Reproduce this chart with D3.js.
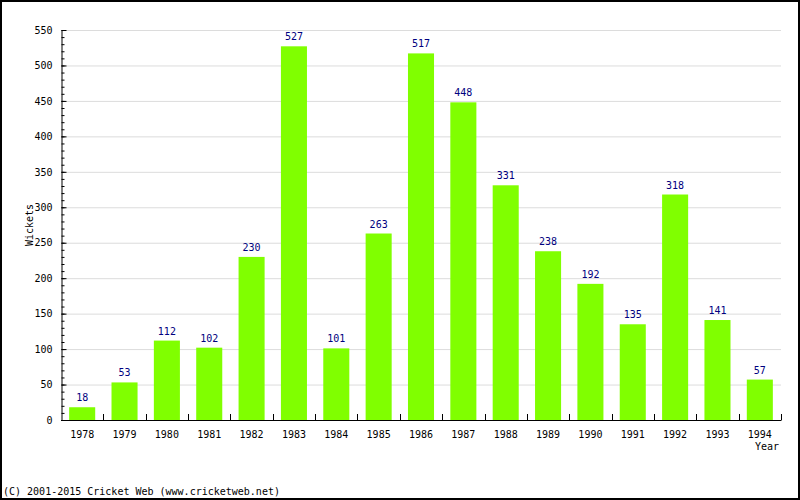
<!DOCTYPE html>
<html>
<head>
<meta charset="utf-8">
<script src="https://cdn.jsdelivr.net/npm/d3@7"></script>
<style>
  body { margin: 0; background: #fff; }
  svg text { font-family: 'DejaVu Sans Mono', monospace; font-size: 10px; }
</style>
</head>
<body>
<div id="chart"></div>
<script>
// Chart data
var years = ['1978','1979','1980','1981','1982','1983','1984','1985','1986','1987','1988','1989','1990','1991','1992','1993','1994'];
var wickets = [18, 53, 112, 102, 230, 527, 101, 263, 517, 448, 331, 238, 192, 135, 318, 141, 57];
var yTicks = [0, 50, 100, 150, 200, 250, 300, 350, 400, 450, 500, 550];

var W = 800, H = 500,
  plotLeft = 61, plotRight = 781, plotTop = 30, plotBottom = 420;

var svg = d3.select('#chart').append('svg')
  .attr('width', W)
  .attr('height', H);

// outer frame
svg.append('rect')
  .attr('x', 1).attr('y', 1)
  .attr('width', W - 2).attr('height', H - 2)
  .attr('fill', '#fff')
  .attr('stroke', '#000')
  .attr('stroke-width', 2);

var x = d3.scaleBand()
  .domain(years)
  .range([plotLeft, plotRight])
  .paddingInner(0.385)
  .paddingOuter(0.1925);

var y = d3.scaleLinear()
  .domain([0, 550])
  .range([plotBottom, plotTop]);

// grid lines
svg.append('g')
  .selectAll('line')
  .data(yTicks.filter(function(d) { return d > 0; }))
  .enter()
  .append('line')
  .attr('x1', plotLeft)
  .attr('x2', plotRight)
  .attr('y1', function(d) { return y(d) + 0.5; })
  .attr('y2', function(d) { return y(d) + 0.5; })
  .attr('stroke', '#dcdcdc')
  .attr('stroke-width', 1);

// bars
svg.append('g')
  .selectAll('rect')
  .data(wickets)
  .enter()
  .append('rect')
  .attr('x', function(d, i) { return x(years[i]); })
  .attr('width', x.bandwidth())
  .attr('y', function(d) { return y(d); })
  .attr('height', function(d) { return plotBottom - y(d); })
  .attr('fill', '#80ff00');

// value labels
svg.append('g')
  .selectAll('text')
  .data(wickets)
  .enter()
  .append('text')
  .attr('x', function(d, i) { return x(years[i]) + x.bandwidth() / 2; })
  .attr('y', function(d) { return y(d) - 6; })
  .attr('text-anchor', 'middle')
  .attr('fill', '#000080')
  .text(function(d) { return d; });

// minor y ticks
svg.append('g')
  .attr('transform', 'translate(' + (plotLeft + 0.5) + ',0)')
  .call(d3.axisLeft(y).tickValues(d3.range(0, 551, 10)).tickSize(-3).tickFormat(''))
  .call(function(g) { g.select('.domain').remove(); });

// y axis
svg.append('g')
  .attr('transform', 'translate(' + (plotLeft + 0.5) + ',0)')
  .call(d3.axisLeft(y).tickValues(yTicks).tickSize(-5).tickSizeOuter(0).tickPadding(9))
  .call(function(g) {
    g.selectAll('text').style('font-family', "'DejaVu Sans Mono', monospace").style('font-size', '10px');
  });

// x axis line with ticks between categories
var xb = d3.scaleLinear().domain([0, years.length]).range([plotLeft, plotRight]);
var xg = svg.append('g');
xg.append('line')
  .attr('x1', plotLeft).attr('x2', plotRight + 0.5)
  .attr('y1', plotBottom + 0.5).attr('y2', plotBottom + 0.5)
  .attr('stroke', '#000');
xg.selectAll('line.tk')
  .data(d3.range(1, years.length + 1))
  .enter()
  .append('line')
  .attr('class', 'tk')
  .attr('x1', function(d) { return Math.round(xb(d)) + 0.5; })
  .attr('x2', function(d) { return Math.round(xb(d)) + 0.5; })
  .attr('y1', plotBottom - 6)
  .attr('y2', plotBottom)
  .attr('stroke', '#000');
xg.selectAll('text')
  .data(years)
  .enter()
  .append('text')
  .attr('x', function(d) { return x(d) + x.bandwidth() / 2; })
  .attr('y', 438)
  .attr('text-anchor', 'middle')
  .text(function(d) { return d; });

// axis titles
svg.append('text')
  .attr('transform', 'translate(33,' + ((plotTop + plotBottom) / 2) + ') rotate(-90)')
  .attr('text-anchor', 'middle')
  .text('Wickets');

svg.append('text')
  .attr('x', 779)
  .attr('y', 450)
  .attr('text-anchor', 'end')
  .text('Year');

svg.append('text')
  .attr('x', 3)
  .attr('y', 495)
  .text('(C) 2001-2015 Cricket Web (www.cricketweb.net)');
</script>
</body>
</html>
